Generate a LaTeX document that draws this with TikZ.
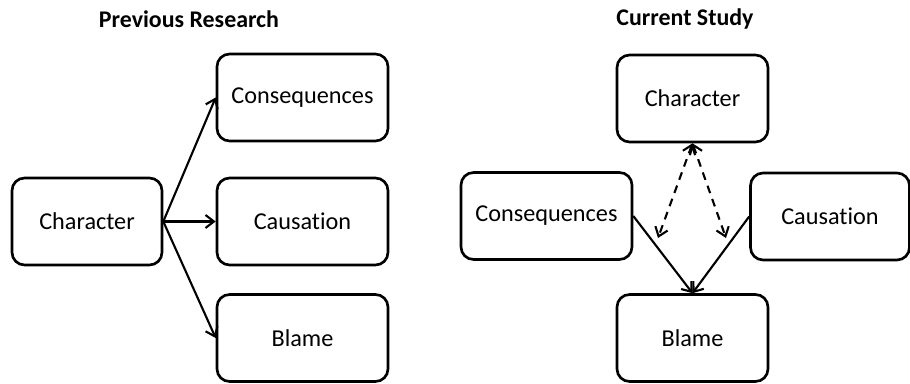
\documentclass[tikz,border=0pt]{standalone}
\usepackage{fontspec}
\setmainfont{Carlito}[Ligatures=CommonOff]
\usepackage{tikz}
\usetikzlibrary{arrows.meta}

\tikzset{
    box/.style={draw, line width=1.5pt, rounded corners=0.25cm, inner sep=0pt,
                minimum height=1.74cm, font=\fontsize{13.8}{16}\selectfont},
    title/.style={font=\bfseries\fontsize{13.6}{16}\selectfont},
    link/.style={line width=1.2pt, -{Straight Barb[length=1.7mm,width=2.6mm]}},
    maybe/.style={line width=1.2pt, dash pattern=on 4.5pt off 3.5pt,
                  {Straight Barb[length=1.7mm,width=2.6mm]}-{Straight Barb[length=1.7mm,width=2.6mm]}}
}

\begin{document}
\begin{tikzpicture}[x=0.02cm,y=-0.02cm]
    \useasboundingbox (0,0) rectangle (910,384);

    % previous research
    \node [title] (prevtitle) at (189,19) {Previous Research};
    \node [box, minimum width=3cm]    (charL)  at (87,221.5)  {Character};
    \node [box, minimum width=3.42cm] (consL)  at (302.5,97.5) {Consequences};
    \node [box, minimum width=3.42cm] (causL)  at (302.5,221.5) {Causation};
    \node [box, minimum width=3.42cm] (blameL) at (302.5,338) {Blame};

    \foreach \t in {consL,causL,blameL}
        \draw [link] (charL.east) -- (\t.west);

    % current study
    \node [title] (currtitle) at (685,19) {Current Study};
    \node [box, minimum width=3.02cm] (charR)  at (692.5,98.5) {Character};
    \node [box, minimum width=3.42cm] (consR)  at (546.5,216) {Consequences};
    \node [box, minimum width=3.18cm] (causR)  at (830,216.5) {Causation};
    \node [box, minimum width=3.02cm] (blameR) at (692.5,338) {Blame};

    \coordinate (dashL) at (658,238);
    \coordinate (dashR) at (726,238);
    \draw [maybe] (charR.south) -- (dashL);
    \draw [maybe] (charR.south) -- (dashR);

    \draw [link] (consR.east) -- (blameR.north);
    \draw [link] (causR.west) -- (blameR.north);
\end{tikzpicture}
\end{document}
